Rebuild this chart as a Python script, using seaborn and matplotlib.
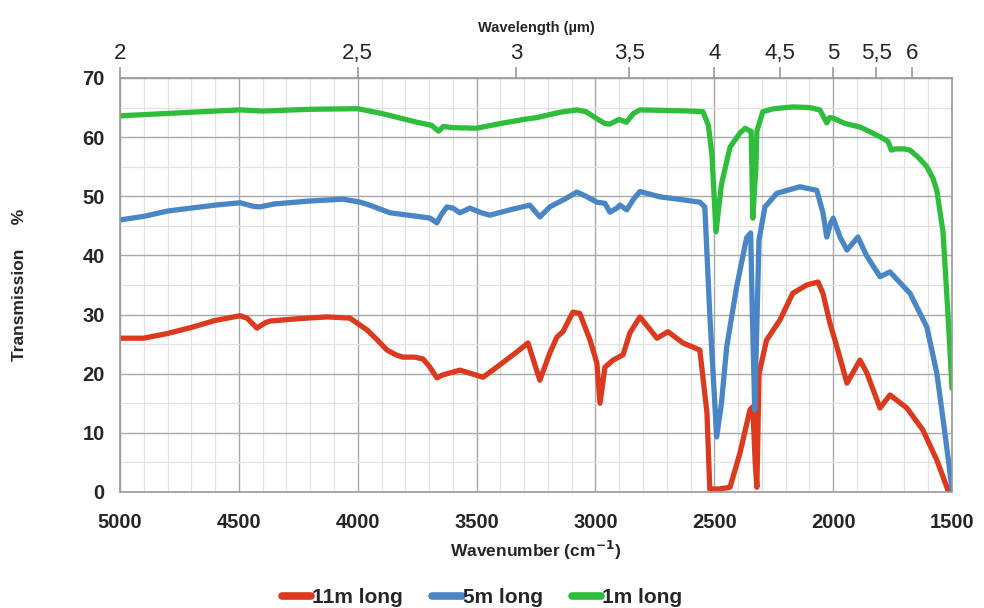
import numpy as np
import pandas as pd
import matplotlib
matplotlib.use("Agg")
import matplotlib.pyplot as plt
import seaborn as sns
from matplotlib.ticker import MultipleLocator

# ---------------- data ----------------
green_wn = [5000, 4800, 4600, 4495, 4400, 4200, 4000, 3900, 3800, 3750, 3690, 3660, 3640, 3600,
            3500, 3400, 3300, 3246, 3150, 3078, 3040, 2990, 2960, 2940, 2900, 2870, 2840, 2813,
            2700, 2600, 2548, 2525, 2510, 2493, 2470, 2434, 2392, 2370, 2358, 2345, 2338, 2325,
            2321, 2296, 2250, 2170, 2100, 2056, 2027, 2015, 2000, 1950, 1887, 1840, 1800, 1770,
            1755, 1740, 1700, 1677, 1640, 1606, 1580, 1564, 1538, 1517, 1500]
green_t = [63.6, 64.0, 64.4, 64.6, 64.4, 64.7, 64.8, 64.0, 63.0, 62.5, 62.0, 61.0, 61.8, 61.6,
           61.5, 62.3, 63.0, 63.3, 64.2, 64.6, 64.3, 63.0, 62.3, 62.2, 63.0, 62.5, 64.0, 64.6,
           64.5, 64.4, 64.3, 62.0, 57.0, 44.0, 52.0, 58.3, 60.7, 61.5, 61.2, 61.0, 46.3, 55.0,
           61.0, 64.3, 64.8, 65.1, 65.0, 64.6, 62.4, 63.3, 63.2, 62.3, 61.7, 60.8, 60.0, 59.3,
           57.8, 58.0, 58.0, 57.8, 56.5, 55.0, 53.0, 51.0, 44.0, 30.0, 17.5]

blue_wn = [5000, 4900, 4800, 4700, 4600, 4495, 4440, 4411, 4350, 4200, 4062, 3990, 3950, 3864,
           3750, 3696, 3667, 3650, 3625, 3600, 3570, 3528, 3480, 3444, 3350, 3276, 3234, 3192,
           3130, 3078, 3040, 2994, 2960, 2939, 2910, 2897, 2868, 2840, 2813, 2729, 2650, 2561,
           2540, 2519, 2490, 2470, 2448, 2406, 2364, 2347, 2340, 2330, 2320, 2312, 2287, 2237,
           2140, 2069, 2043, 2027, 2010, 2000, 1970, 1942, 1896, 1860, 1803, 1761, 1677, 1606,
           1564, 1530, 1500]
blue_t = [46.0, 46.6, 47.5, 48.0, 48.5, 48.9, 48.3, 48.2, 48.7, 49.2, 49.5, 49.0, 48.5, 47.2,
          46.6, 46.3, 45.5, 46.8, 48.2, 48.0, 47.2, 48.0, 47.2, 46.8, 47.8, 48.5, 46.5, 48.2,
          49.5, 50.7, 50.0, 49.0, 48.8, 47.3, 48.0, 48.5, 47.7, 49.5, 50.8, 49.9, 49.5, 49.0,
          48.2, 30.0, 9.3, 15.0, 24.5, 34.7, 43.0, 43.8, 30.0, 13.9, 30.0, 42.6, 48.2, 50.5,
          51.6, 51.0, 47.2, 43.1, 45.5, 46.3, 43.0, 40.9, 43.1, 40.0, 36.4, 37.2, 33.6, 27.9,
          20.1, 10.0, 0.5]

red_wn = [5000, 4902, 4800, 4693, 4600, 4495, 4466, 4424, 4390, 4369, 4250, 4130, 4033, 3990,
          3961, 3920, 3877, 3840, 3810, 3760, 3726, 3700, 3667, 3642, 3570, 3473, 3402, 3330,
          3284, 3234, 3192, 3162, 3137, 3095, 3066, 3023, 2994, 2981, 2960, 2926, 2884, 2855,
          2813, 2741, 2695, 2632, 2561, 2531, 2519, 2480, 2434, 2392, 2350, 2338, 2328, 2321,
          2312, 2280, 2225, 2170, 2111, 2064, 2043, 2014, 1984, 1942, 1887, 1858, 1803, 1761,
          1690, 1623, 1564, 1517, 1500]
red_t = [26.0, 26.0, 26.8, 27.9, 29.0, 29.8, 29.4, 27.7, 28.6, 28.9, 29.3, 29.6, 29.4, 28.2,
         27.4, 25.8, 24.0, 23.2, 22.8, 22.8, 22.5, 21.3, 19.3, 19.8, 20.6, 19.4, 21.5, 23.7,
         25.2, 18.9, 23.5, 26.2, 27.1, 30.4, 30.2, 25.7, 21.8, 15.0, 21.1, 22.3, 23.2, 26.9,
         29.6, 26.0, 27.1, 25.2, 24.0, 13.4, 0.5, 0.5, 0.8, 6.6, 13.9, 14.4, 5.0, 0.8,
         20.0, 25.7, 29.0, 33.6, 35.0, 35.5, 33.6, 28.6, 24.5, 18.4, 22.3, 20.1, 14.2, 16.4,
         14.2, 10.5, 5.4, 0.3, 0.3]

series_names = ["11m long", "5m long", "1m long"]
series_colors = ["#dc3a1f", "#4a86c6", "#2fbd3c"]
wl_ticks = [2, 2.5, 3, 3.5, 4, 4.5, 5, 5.5, 6]
wl_labels = ["2", "2,5", "3", "3,5", "4", "4,5", "5", "5,5", "6"]
wn_ticks = [5000, 4500, 4000, 3500, 3000, 2500, 2000, 1500]
y_ticks = [0, 10, 20, 30, 40, 50, 60, 70]

df = pd.concat([
    pd.DataFrame({"wn": red_wn, "T": red_t, "s": series_names[0]}),
    pd.DataFrame({"wn": blue_wn, "T": blue_t, "s": series_names[1]}),
    pd.DataFrame({"wn": green_wn, "T": green_t, "s": series_names[2]}),
])

# ---------------- plot ----------------
sns.set_style("white")
plt.rcParams["font.family"] = ["Liberation Sans", "DejaVu Sans"]

fig = plt.figure(figsize=(9.84, 6.08), dpi=100)
ax = fig.add_axes([0.122, 0.1908, 0.8455, 0.681])

sns.lineplot(data=df, x="wn", y="T", hue="s", hue_order=series_names,
             palette=series_colors, linewidth=3.8, ax=ax, legend=False,
             estimator=None, sort=True)

ax.set_xlim(5000, 1500)
ax.set_ylim(0, 70)
ax.set_xticks(wn_ticks)
ax.set_yticks(y_ticks)
ax.xaxis.set_minor_locator(MultipleLocator(100))
ax.yaxis.set_minor_locator(MultipleLocator(5))
ax.grid(which="major", color="#a8a8a8", linewidth=1.0)
ax.grid(which="minor", color="#e2e2e2", linewidth=0.9)
ax.set_axisbelow(True)
for sp in ax.spines.values():
    sp.set_color("#9a9a9a")
    sp.set_linewidth(1.2)

ax.tick_params(axis="both", which="major", labelsize=14.5, length=5, color="#9a9a9a",
               width=1, pad=6)
ax.tick_params(axis="x", which="major", pad=10)
ax.tick_params(axis="both", which="minor", length=0)
for lab in ax.get_xticklabels() + ax.get_yticklabels():
    lab.set_fontweight("bold")

ax.set_xlabel("Wavenumber (cm$^{\\mathbf{-1}}$)", fontsize=12.5, fontweight="bold", labelpad=5)
ax.set_ylabel("Transmission     %", fontsize=12.5, fontweight="bold", labelpad=40)


def wn_to_wl(x):
    x = np.asarray(x, dtype=float)
    with np.errstate(divide="ignore", invalid="ignore"):
        return 1e4 / x


sec = ax.secondary_xaxis("top", functions=(wn_to_wl, wn_to_wl))
sec.set_xticks(wl_ticks)
sec.set_xticklabels(wl_labels, fontsize=16, family=["Liberation Sans Narrow", "Liberation Sans", "DejaVu Sans"])
sec.tick_params(axis="x", length=8, color="#9a9a9a", width=1.2, pad=2)
sec.xaxis.set_minor_locator(plt.NullLocator())
sec.spines["top"].set_color("#9a9a9a")
sec.set_xlabel("Wavelength (µm)", fontsize=10.5, fontweight="bold",
               family=["Liberation Sans Narrow", "Liberation Sans", "DejaVu Sans"], labelpad=8)

handles = [plt.Line2D([], [], color=c, linewidth=5.5) for c in series_colors]
fig.legend(handles, series_names, loc="lower center", bbox_to_anchor=(0.49, -0.03),
           ncol=3, frameon=False, handlelength=1.4, handletextpad=0.05, columnspacing=1.4,
           prop={"weight": "bold", "size": 15})

fig.savefig("out.png", dpi=100)
